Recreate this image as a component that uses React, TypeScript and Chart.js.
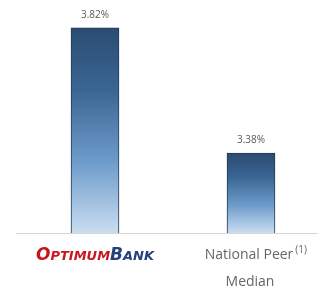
import React, { useEffect, useRef } from "react";
import { Chart, registerables } from "chart.js";

Chart.register(...registerables);

const categories = ["OptimumBank", "National Peer Median"];
const values = [3.82, 3.38];
const valueLabels = ["3.82%", "3.38%"];
const yMin = 3.1;
const yMax = 3.9;

const gradientStops: [number, string][] = [
  [0, "#2b4c70"],
  [0.3, "#3a6593"],
  [0.65, "#6d9bca"],
  [1, "#c9ddf0"],
];

const overlayPlugin = {
  id: "overlay",
  afterDatasetsDraw(chart: any) {
    const { ctx, chartArea, scales } = chart;
    const xs = scales.x;
    const meta = chart.getDatasetMeta(0);
    ctx.save();
    // baseline
    ctx.strokeStyle = "#d6d6d6";
    ctx.lineWidth = 1;
    ctx.beginPath();
    ctx.moveTo(chartArea.left - 1, chartArea.bottom + 0.5);
    ctx.lineTo(chartArea.right - 11, chartArea.bottom + 0.5);
    ctx.stroke();

    // value labels
    ctx.fillStyle = "#5a5a5a";
    ctx.font = "10px 'Open Sans'";
    ctx.textAlign = "center";
    ctx.textBaseline = "middle";
    meta.data.forEach((bar: any, i: number) => {
      ctx.fillText(valueLabels[i], bar.x, bar.y - 13);
    });

    // category 1: logo-like text
    const x0 = xs.getPixelForValue(0);
    const baseY = chartArea.bottom + 27;
    const parts: [string, number, string][] = [
      ["O", 17, "#c8161d"],
      ["PTIMUM", 13, "#c8161d"],
      ["B", 17, "#26407c"],
      ["ANK", 13, "#26407c"],
    ];
    ctx.textBaseline = "alphabetic";
    ctx.textAlign = "left";
    let total = 0;
    const widths = parts.map(([t, s]) => {
      ctx.font = `italic bold ${s}px 'DejaVu Sans'`;
      const w = ctx.measureText(t).width;
      total += w;
      return w;
    });
    let cx = x0 - total / 2;
    parts.forEach(([t, s, c], i) => {
      ctx.font = `italic bold ${s}px 'DejaVu Sans'`;
      ctx.fillStyle = c;
      ctx.fillText(t, cx, baseY);
      cx += widths[i];
    });

    // category 2
    const x1 = xs.getPixelForValue(1);
    ctx.fillStyle = "#666666";
    ctx.font = "14px 'Open Sans'";
    ctx.textAlign = "center";
    ctx.textBaseline = "middle";
    const l1 = "National Peer";
    const w1 = ctx.measureText(l1).width;
    ctx.fillText(l1, x1 - 2, chartArea.bottom + 22);
    ctx.font = "10px 'Open Sans'";
    ctx.textAlign = "left";
    ctx.fillText("(1)", x1 - 2 + w1 / 2 + 2, chartArea.bottom + 17);
    ctx.font = "14px 'Open Sans'";
    ctx.textAlign = "center";
    ctx.fillText("Median", x1 - 1, chartArea.bottom + 49);
    ctx.restore();
  },
};

export default function App() {
  const ref = useRef<HTMLCanvasElement>(null);
  useEffect(() => {
    document.body.style.margin = "0";
    const chart = new Chart(ref.current!, {
      type: "bar",
      data: {
        labels: categories,
        datasets: [
          {
            data: values,
            backgroundColor: (c: any) => {
              const ch = c.chart;
              const ys = ch.scales?.y;
              if (!ch.chartArea || !ys || c.raw === undefined) return "#3a6593";
              const top = ys.getPixelForValue(c.raw);
              const bottom = ys.getPixelForValue(yMin);
              const g = ch.ctx.createLinearGradient(0, top, 0, bottom);
              gradientStops.forEach(([p, col]) => g.addColorStop(p, col));
              return g;
            },
            borderColor: "#22384f",
            borderWidth: { top: 1, left: 1, right: 1, bottom: 0 },
            borderSkipped: "bottom",
            barThickness: 48,
          },
        ],
      },
      options: {
        animation: false,
        responsive: true,
        maintainAspectRatio: false,
        layout: { padding: { top: 5, bottom: 56, left: 17, right: 3 } },
        plugins: { legend: { display: false }, tooltip: { enabled: false } },
        scales: {
          x: { display: false },
          y: { display: false, min: yMin, max: yMax },
        },
      },
      plugins: [overlayPlugin],
    });
    return () => chart.destroy();
  }, []);
  return (
    <div style={{ width: 332, height: 289, position: "relative", background: "#fff" }}>
      <canvas ref={ref} />
    </div>
  );
}
